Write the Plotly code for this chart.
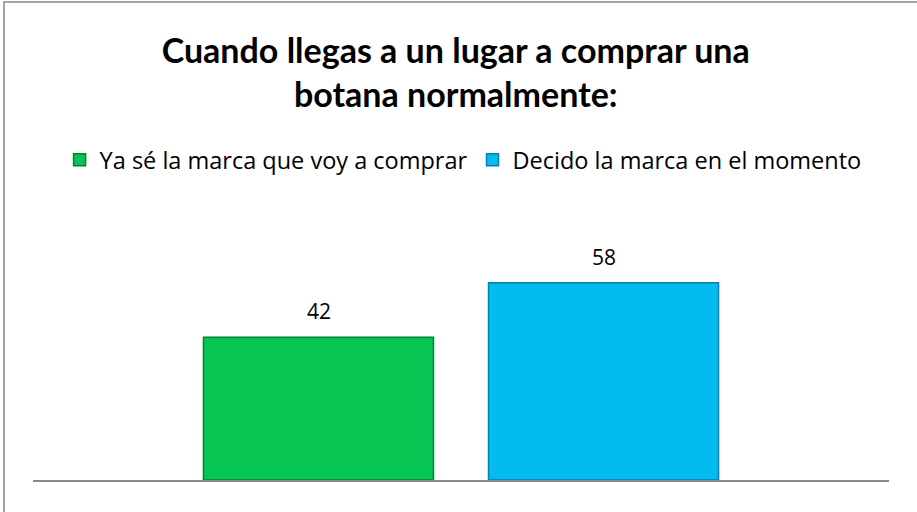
import plotly.graph_objects as go

categories = ["Botana"]
series_names = ["Ya sé la marca que voy a comprar", "Decido la marca en el momento"]
series_values = [[42], [58]]
series_colors = ["#07c552", "#04bbef"]
series_lines = ["#03803a", "#0580ae"]
title_text = "<b>Cuando llegas a un lugar a comprar una<br>botana normalmente:</b>"

TFONT = "Lato"
FONT = "Open Sans"
fig = go.Figure()
for name, vals, col, lc in zip(series_names, series_values, series_colors, series_lines):
    fig.add_trace(go.Bar(
        x=categories, y=vals, name=name,
        marker=dict(color=col, line=dict(color=lc, width=1.5)),
        hoverinfo="skip",
    ))

# data labels
n = len(series_names)
slot_px = 285
for i, vals in enumerate(series_values):
    for c, v in zip(categories, vals):
        fig.add_annotation(
            x=c, y=v, xref="x", yref="y", text=str(v), showarrow=False,
            xshift=(i - (n - 1) / 2) * slot_px, yshift=10, yanchor="bottom",
            font=dict(family=FONT, size=21, color="#000000"),
        )

L, R, T, B = 33, 28, 242, 32
W, H = 917, 512
pw, ph = W - L - R, H - T - B
fig.add_shape(
    type="rect", xref="paper", yref="paper",
    x0=(4 - L) / pw, x1=(925 - L) / pw,
    y0=-(520 - (H - B)) / ph, y1=1 + (T - 2) / ph,
    line=dict(color="#868686", width=1.5), fillcolor="rgba(0,0,0,0)", layer="below",
)

fig.update_layout(
    width=W, height=H,
    margin=dict(l=L, r=R, t=T, b=B),
    paper_bgcolor="white", plot_bgcolor="white",
    barmode="group", bargap=0.334, bargroupgap=0.193,
    title=dict(text=title_text, x=0.497, xref="container", xanchor="center",
               y=1 - 63 / H, yref="container", yanchor="top",
               font=dict(family=TFONT, size=34, color="#000000")),
    legend=dict(orientation="h", x=0.505, xanchor="center", xref="container",
                y=1 - 160 / H, yref="container", yanchor="middle",
                font=dict(family=FONT, size=23.5, color="#000000"),
                itemwidth=30, traceorder="normal"),
    xaxis=dict(type="category", showline=True, linecolor="#8a8a8a", linewidth=1.5,
               showticklabels=False, ticks="", showgrid=False, zeroline=False),
    yaxis=dict(range=[0, 70], visible=False, showgrid=False, zeroline=False),
    showlegend=True,
)

fig.write_html("out.html", config={"displayModeBar": False},
               post_script="document.body.style.margin='0';document.body.style.overflow='hidden';")
